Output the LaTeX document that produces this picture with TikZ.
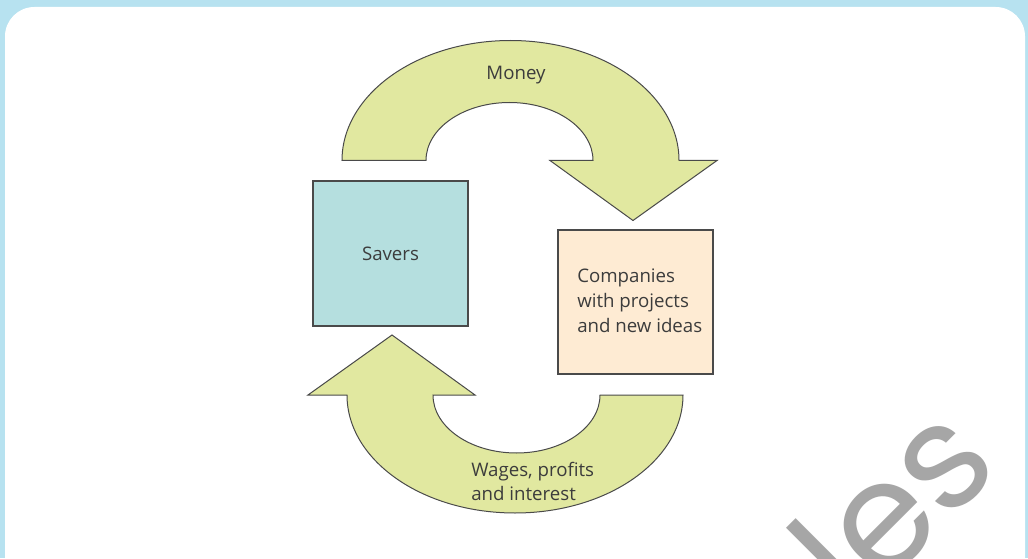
\documentclass[tikz,border=0pt]{standalone}
\usepackage{fontspec}
\setmainfont{Open Sans}
\newfontfamily\wmfont{Poppins}
\definecolor{framebg}{HTML}{B7E2F0}
\definecolor{arrowfill}{HTML}{E1E8A0}
\definecolor{saverfill}{HTML}{B5DFDF}
\definecolor{compfill}{HTML}{FEEBD3}
\definecolor{edgegray}{HTML}{4A4A4A}
\definecolor{txtgray}{HTML}{3C3C3C}
\definecolor{wmgray}{HTML}{A6A6A6}
\tikzset{
  flowarrow/.style={fill=arrowfill, draw=edgegray, line width=0.75pt, line join=miter},
  agentbox/.style={draw=edgegray, line width=1pt, inner sep=0pt},
  label/.style={text=txtgray, font=\fontsize{14}{18.6}\selectfont, inner sep=0pt}
}
\begin{document}
\begin{tikzpicture}[x=0.75pt, y=0.75pt]
  % page frame
  \useasboundingbox (0,0) rectangle (1028,558);
  \fill[framebg] (0,0) rectangle (1028,558);
  \fill[white, rounded corners=22] (5,-30) rectangle (1025,551);

  % watermark
  \begin{scope}
    \clip (5,0) rectangle (1025,551);
    \node[font=\wmfont\fontsize{112}{112}\selectfont, text=wmgray, rotate=45,
          anchor=base east, inner sep=0pt] (wm) at (1003,90) {Samples};
  \end{scope}

  % boxes (155 x 145 px)
  \node[agentbox, fill=saverfill, minimum width=116.25pt, minimum height=108.75pt] (savers) at (390.5,304.5) {};
  \node[label] (saverstext) at (savers.center) {Savers};
  \node[agentbox, fill=compfill, minimum width=116.25pt, minimum height=108pt] (companies) at (635.5,256) {};
  \node[label, align=left, anchor=west] (comptext) at (577,257) {Companies\\with projects\\and new ideas};

  % money flow: savers -> companies
  \path[flowarrow] (342,397.5) arc[start angle=180, end angle=0, x radius=168.5, y radius=120]
    -- (717,397.5) -- (633,337.5) -- (550,397.5) -- (593,397.5)
    arc[start angle=0, end angle=180, x radius=83.5, y radius=58] -- cycle;
  \node[label] (money) at (516,483) {Money};

  % returns flow: companies -> savers
  \path[flowarrow] (683,163) arc[start angle=0, end angle=-180, x radius=168, y radius=118]
    -- (308,163) -- (392,223) -- (475,163) -- (433,163)
    arc[start angle=180, end angle=360, x radius=83.5, y radius=58] -- cycle;
  \node[label, align=left, anchor=west] (returns) at (471,76.5) {Wages, profits\\and interest};
\end{tikzpicture}
\end{document}
